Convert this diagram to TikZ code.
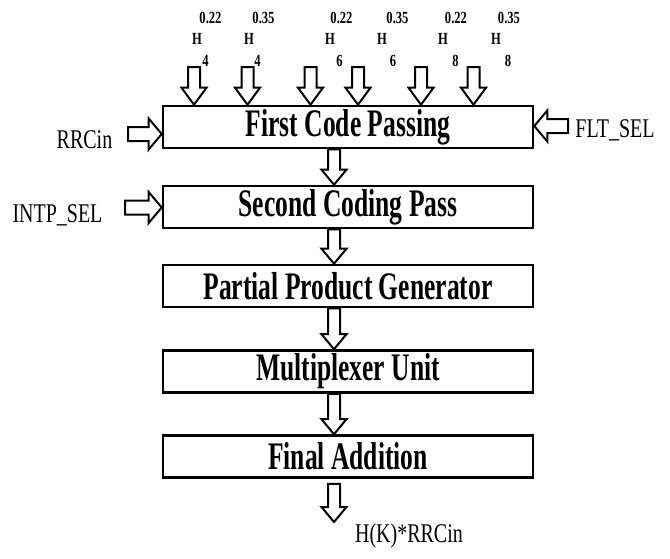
\documentclass[tikz,border=0pt]{standalone}
\usepackage{fontspec}
\setmainfont{Liberation Serif}
\usepackage{graphicx}
\usepackage{tikz}
\usetikzlibrary{calc}

\newcommand{\cnd}[2]{\scalebox{#1}[1]{#2}}

\begin{document}
\begin{tikzpicture}[x=1pt, y=-1pt,
    blk/.style={draw, line width=2.6pt, minimum width=370pt, minimum height=42pt, inner sep=0pt, font=\fontsize{39}{39}\selectfont\bfseries},
    lbl/.style={anchor=base, inner sep=0pt, font=\fontsize{27}{27}\selectfont},
    sml/.style={anchor=base, inner sep=0pt, font=\fontsize{17}{17}\selectfont\bfseries},
    barr/.style={draw, line width=2pt, line join=miter},
    darr/.style={to path={let \p1=(\tikztostart), \p2=(\tikztotarget) in
      (\x1-6pt,\y1) -- (\x1+6pt,\y1) -- (\x1+6pt,\y2+#1) -- (\x1+12.5pt,\y2+#1)
      -- (\x1,\y2) -- (\x1-12.5pt,\y2+#1) -- (\x1-6pt,\y2+#1) -- cycle}},
    darr/.default=15pt,
    rarr/.style={to path={let \p1=(\tikztostart), \p2=(\tikztotarget) in
      (\x1,\y1-7pt) -- (\x2-13pt,\y1-7pt) -- (\x2-13pt,\y1-15.5pt) -- (\x2,\y1)
      -- (\x2-13pt,\y1+15.5pt) -- (\x2-13pt,\y1+7pt) -- (\x1,\y1+7pt) -- cycle}},
    larr/.style={to path={let \p1=(\tikztostart), \p2=(\tikztotarget) in
      (\x1,\y1-7pt) -- (\x2+13pt,\y1-7pt) -- (\x2+13pt,\y1-15.5pt) -- (\x2,\y1)
      -- (\x2+13pt,\y1+15.5pt) -- (\x2+13pt,\y1+7pt) -- (\x1,\y1+7pt) -- cycle}}]
    \useasboundingbox (0,0) rectangle (670,558);

    % processing chain
    \node[blk] (fcp) at (348,127) {\cnd{0.655}{First Code Passing}};
    \node[blk] (scp) at (348,207) {\cnd{0.655}{Second Coding Pass}};
    \node[blk] (ppg) at (348,286) {\cnd{0.655}{Partial Product Generator}};
    \node[blk] (mux) at (348,371.5) {\cnd{0.655}{Multiplexer Unit}};
    \node[blk] (fa) at (348,456.5) {\cnd{0.655}{Final Addition}};

    \draw[barr] ([xshift=-14pt]fcp.south) to[darr] ([xshift=-14pt]scp.north);
    \draw[barr] ([xshift=-14pt]scp.south) to[darr] ([xshift=-14pt]ppg.north);
    \draw[barr] ([xshift=-14pt]ppg.south) to[darr] ([xshift=-14pt]mux.north);
    \draw[barr] ([xshift=-14pt]mux.south) to[darr] ([xshift=-14pt]fa.north);

    % filter coefficients
    \node[sml] (c1) at (210.5,23) {\cnd{0.74}{0.22}};
    \node[sml] (h1) at (197,44) {\cnd{0.74}{H}};
    \node[sml] (s1) at (205.5,66) {\cnd{0.74}{4}};
    \node[sml] (c2) at (263.5,23) {\cnd{0.74}{0.35}};
    \node[sml] (h2) at (249,44) {\cnd{0.74}{H}};
    \node[sml] (s2) at (257.5,66) {\cnd{0.74}{4}};
    \node[sml] (c3) at (341.5,23) {\cnd{0.74}{0.22}};
    \node[sml] (h3) at (330,44) {\cnd{0.74}{H}};
    \node[sml] (s3) at (339.5,66) {\cnd{0.74}{6}};
    \node[sml] (c4) at (397.5,23) {\cnd{0.74}{0.35}};
    \node[sml] (h4) at (382,44) {\cnd{0.74}{H}};
    \node[sml] (s4) at (393,66) {\cnd{0.74}{6}};
    \node[sml] (c5) at (456,23) {\cnd{0.74}{0.22}};
    \node[sml] (h5) at (443,44) {\cnd{0.74}{H}};
    \node[sml] (s5) at (455.5,66) {\cnd{0.74}{8}};
    \node[sml] (c6) at (509,23) {\cnd{0.74}{0.35}};
    \node[sml] (h6) at (496,44) {\cnd{0.74}{H}};
    \node[sml] (s6) at (508,66) {\cnd{0.74}{8}};

    \coordinate (a1) at (194,67);
    \coordinate (a2) at (247.5,67);
    \coordinate (a3) at (310.5,67);
    \coordinate (a4) at (358,67);
    \coordinate (a5) at (421,67);
    \coordinate (a6) at (473.5,67);
    \draw[barr] (a1) to[darr=17pt] (a1 |- fcp.north);
    \draw[barr] (a2) to[darr=17pt] (a2 |- fcp.north);
    \draw[barr] (a3) to[darr=17pt] (a3 |- fcp.north);
    \draw[barr] (a4) to[darr=17pt] (a4 |- fcp.north);
    \draw[barr] (a5) to[darr=17pt] (a5 |- fcp.north);
    \draw[barr] (a6) to[darr=17pt] (a6 |- fcp.north);

    % side inputs
    \node[lbl] (rrcin) at (84.5,148) {\cnd{0.74}{RRCin}};
    \node[lbl] (intp) at (57.5,222) {\cnd{0.74}{INTP\_SEL}};
    \node[lbl] (flt) at (615,137) {\cnd{0.74}{FLT\_SEL}};
    \coordinate (rrcs) at (128,134);
    \coordinate (intps) at (125,207.5);
    \coordinate (flts) at (568,126);
    \draw[barr] (rrcs) to[rarr] (rrcs -| fcp.west);
    \draw[barr] (intps) to[rarr] (intps -| scp.west);
    \draw[barr] (flts) to[larr] (flts -| fcp.east);

    % output
    \node[lbl] (out) at (409,542) {\cnd{0.74}{H(K)*RRCin}};
    \coordinate (outtip) at (334,522);
    \draw[barr] ([xshift=-14pt,yshift=-5pt]fa.south) to[darr] (outtip);
  \end{tikzpicture}
\end{document}
